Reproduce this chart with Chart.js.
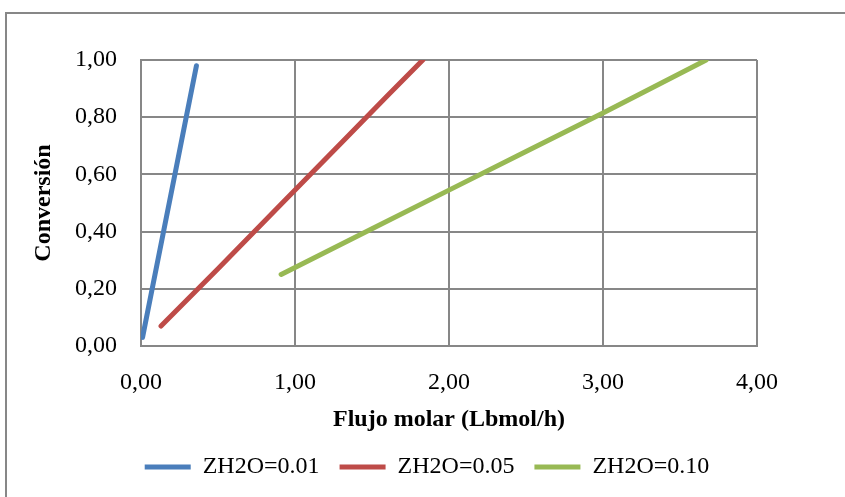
<!DOCTYPE html>
<html>
<head>
<meta charset="utf-8">
<script src="https://cdn.jsdelivr.net/npm/chart.js@4"></script>
<style>
  html, body { margin: 0; padding: 0; background: #fff; }
  #wrap { position: relative; width: 845px; height: 497px; overflow: hidden; }
  #frame { position: absolute; left: 5px; top: 12px; width: 900px; height: 600px;
           border-top: 2px solid #878787; border-left: 2px solid #878787; }
  canvas { position: absolute; left: 0; top: 0; }
</style>
</head>
<body>
<div id="wrap">
  <div id="frame"></div>
  <canvas id="chart" width="845" height="497"></canvas>
</div>
<script>
// Flujo molar (Lbmol/h) vs conversión, one series per ZH2O
const flujo001 = [0.01, 0.08, 0.15, 0.22, 0.29, 0.36];
const conv001 = [0.03, 0.22, 0.41, 0.60, 0.79, 0.98];

const flujo005 = [0.13, 0.50, 0.90, 1.30, 1.60, 1.83];
const conv005 = [0.07, 0.27, 0.49, 0.71, 0.875, 1.00];

const flujo010 = [0.91, 1.50, 2.00, 2.50, 3.00, 3.67];
const conv010 = [0.25, 0.41, 0.545, 0.68, 0.815, 1.00];

const seriesLabels = ['ZH2O=0.01', 'ZH2O=0.05', 'ZH2O=0.10'];
const xTicks = [0, 1, 2, 3, 4];
const yTicks = [0, 0.2, 0.4, 0.6, 0.8, 1.0];

const font = 'Liberation Serif, Times New Roman, serif';
const gridColor = '#878787';

function points(xs, ys) {
    return xs.map((x, i) => ({ x: x, y: ys[i] }));
}

function comma(v) {
    return Number(v).toFixed(2).replace('.', ',');
}

function series(label, xs, ys, color) {
    return {
        label: label,
        data: points(xs, ys),
        borderColor: color,
        backgroundColor: color,
        borderWidth: 5,
        borderCapStyle: 'round',
        pointRadius: 0,
        showLine: true,
        tension: 0
    };
}

// nudge the legend to the right, like the Excel original
const legendShift = {
    id: 'legendShift',
    afterLayout(chart) {
        chart.legend.left += 34;
        chart.legend.right += 34;
    }
};

const ctx = document.getElementById('chart').getContext('2d');

new Chart(ctx, {
    type: 'scatter',
    data: {
        datasets: [
            series(seriesLabels[0], flujo001, conv001, '#4A7EBB'),
            series(seriesLabels[1], flujo005, conv005, '#BE4B48'),
            series(seriesLabels[2], flujo010, conv010, '#98B954')
        ]
    },
    plugins: [legendShift],
    options: {
        responsive: false,
        animation: false,
        layout: { padding: { left: 29, right: 88, top: 60, bottom: 8 } },
        plugins: {
            tooltip: { enabled: false },
            legend: {
                position: 'bottom',
                labels: {
                    usePointStyle: true,
                    pointStyle: 'line',
                    pointStyleWidth: 46,
                    padding: 20,
                    color: '#000',
                    font: { family: font, size: 24 }
                }
            }
        },
        scales: {
            x: {
                type: 'linear',
                min: 0,
                max: 4,
                afterBuildTicks: axis => { axis.ticks = xTicks.map(v => ({ value: v })); },
                afterFit: axis => { axis.height = 89; },
                ticks: {
                    padding: 22,
                    color: '#000',
                    font: { family: font, size: 24 },
                    callback: v => comma(v)
                },
                grid: { color: gridColor, lineWidth: 2, drawTicks: false },
                border: { color: gridColor, width: 2 },
                title: {
                    display: true,
                    text: 'Flujo molar (Lbmol/h)',
                    color: '#000',
                    font: { family: font, size: 24, weight: 'bold' },
                    padding: { top: 0, bottom: 1 }
                }
            },
            y: {
                min: 0,
                max: 1,
                afterBuildTicks: axis => { axis.ticks = yTicks.map(v => ({ value: v })); },
                afterFit: axis => { axis.width = 112; },
                ticks: {
                    padding: 24,
                    color: '#000',
                    font: { family: font, size: 24 },
                    callback: v => comma(v)
                },
                grid: { color: gridColor, lineWidth: 2, drawTicks: false },
                border: { color: gridColor, width: 2 },
                title: {
                    display: true,
                    text: 'Conversión',
                    color: '#000',
                    font: { family: font, size: 24, weight: 'bold' },
                    padding: { top: 0, bottom: 0 }
                }
            }
        }
    }
});
</script>
</body>
</html>
